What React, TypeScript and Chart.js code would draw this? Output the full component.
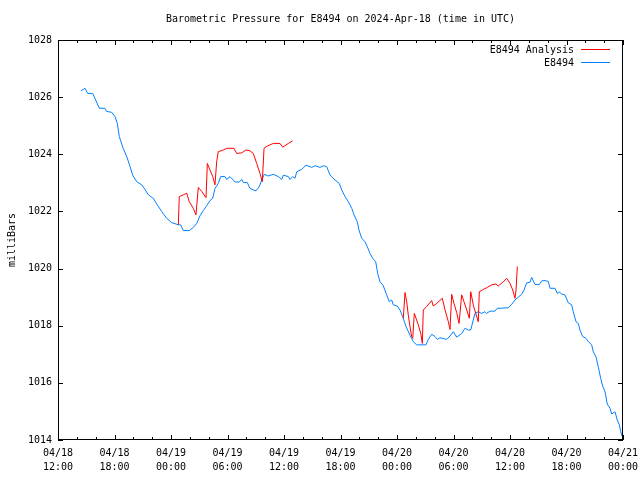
import { useEffect, useRef } from "react";
import { Chart, registerables } from "chart.js";

Chart.register(...registerables);

const TITLE = "Barometric Pressure for E8494 on 2024-Apr-18 (time in UTC)";
const Y_LABEL = "milliBars";
const SERIES_ANALYSIS = "E8494 Analysis";
const SERIES_STATION = "E8494";

// x in hours since 04/18 12:00 UTC
const X_TICK_DATES = ["04/18", "04/18", "04/19", "04/19", "04/19", "04/19", "04/20", "04/20", "04/20", "04/20", "04/21"];
const X_TICK_TIMES = ["12:00", "18:00", "00:00", "06:00", "12:00", "18:00", "00:00", "06:00", "12:00", "18:00", "00:00"];
const Y_TICKS = [1014, 1016, 1018, 1020, 1022, 1024, 1026, 1028];

const stationHours = [
  2.44, 2.87, 3.15, 3.69, 4.39, 4.99, 5.17, 5.70, 6.05, 6.30, 6.51, 6.93, 7.30, 7.65, 7.93, 8.36, 8.89, 9.24, 9.59, 10.12,
  10.54, 11.01, 11.54, 12.07, 12.78, 13.03, 13.31, 13.94, 14.37, 14.73, 15.08, 15.43, 15.79, 16.14, 16.43, 16.67, 17.02, 17.28, 17.73, 17.91,
  18.27, 18.80, 19.25, 19.51, 19.68, 20.10, 20.39, 20.74, 21.03, 21.38, 21.63, 21.91, 22.33, 22.86, 23.39, 23.76, 23.93, 24.46, 24.64, 24.92,
  25.17, 25.35, 25.88, 26.34, 26.94, 27.29, 27.82, 28.17, 28.53, 28.89, 29.42, 29.87, 30.13, 30.48, 30.83, 31.19, 31.44, 31.78, 31.96, 32.25,
  32.60, 32.84, 33.13, 33.42, 33.74, 33.95, 34.19, 34.54, 34.90, 35.18, 35.44, 35.61, 36.03, 36.32, 36.60, 36.96, 37.38, 37.73, 38.09, 39.08,
  39.32, 39.68, 40.04, 40.28, 40.57, 41.28, 41.63, 41.98, 42.34, 42.87, 43.22, 43.57, 43.83, 44.10, 44.28, 44.63, 44.99, 45.34, 45.52, 45.87,
  46.40, 46.65, 46.94, 47.82, 48.18, 48.53, 48.88, 49.24, 49.49, 49.77, 50.12, 50.30, 50.66, 51.11, 51.37, 51.72, 52.07, 52.25, 52.78, 53.03,
  53.24, 53.49, 53.84, 54.19, 54.55, 54.72, 55.01, 55.25, 55.43, 55.72, 56.07, 56.32, 56.67, 56.84, 57.13, 57.37, 57.63, 57.84, 58.09, 58.33,
  58.62, 58.80, 59.15, 59.39, 59.61, 59.76, 59.92,
];
const stationPressure = [
  1026.22, 1026.31, 1026.13, 1026.13, 1025.61, 1025.61, 1025.50, 1025.47, 1025.32, 1025.08, 1024.62, 1024.20, 1023.92, 1023.57, 1023.27, 1023.04, 1022.93, 1022.77, 1022.58, 1022.46,
  1022.23, 1022.00, 1021.76, 1021.61, 1021.53, 1021.53, 1021.33, 1021.33, 1021.44, 1021.58, 1021.85, 1022.03, 1022.20, 1022.38, 1022.46, 1022.80, 1022.98, 1023.22, 1023.22, 1023.12,
  1023.22, 1023.03, 1023.03, 1023.12, 1023.01, 1023.01, 1022.81, 1022.75, 1022.72, 1022.87, 1023.10, 1023.30, 1023.24, 1023.30, 1023.22, 1023.12, 1023.27, 1023.22, 1023.12, 1023.22,
  1023.16, 1023.39, 1023.47, 1023.62, 1023.54, 1023.60, 1023.54, 1023.60, 1023.57, 1023.27, 1023.10, 1022.98, 1022.75, 1022.52, 1022.34, 1022.11, 1021.88, 1021.64, 1021.35, 1021.06,
  1020.94, 1020.77, 1020.53, 1020.36, 1020.24, 1019.83, 1019.54, 1019.40, 1019.08, 1018.84, 1018.90, 1018.73, 1018.69, 1018.55, 1018.32, 1017.97, 1017.67, 1017.44, 1017.33, 1017.33,
  1017.52, 1017.70, 1017.62, 1017.52, 1017.58, 1017.52, 1017.64, 1017.79, 1017.60, 1017.73, 1017.91, 1017.85, 1017.85, 1018.20, 1018.43, 1018.49, 1018.43, 1018.49, 1018.43, 1018.51,
  1018.51, 1018.61, 1018.61, 1018.63, 1018.75, 1018.90, 1019.00, 1019.10, 1019.25, 1019.50, 1019.52, 1019.69, 1019.44, 1019.44, 1019.57, 1019.58, 1019.55, 1019.31, 1019.31, 1019.13,
  1019.18, 1019.11, 1019.08, 1018.80, 1018.73, 1018.49, 1018.14, 1018.08, 1017.85, 1017.62, 1017.56, 1017.44, 1017.33, 1017.09, 1016.91, 1016.57, 1016.16, 1015.89, 1015.69, 1015.26,
  1015.11, 1014.91, 1014.99, 1014.70, 1014.53, 1014.29, 1014.12,
];

const analysisHours = [
  12.78, 12.88, 13.31, 13.67, 13.94, 14.37, 14.65, 14.90, 15.26, 15.72, 15.86, 16.14, 16.43, 16.67, 16.85, 17.02, 17.55, 17.91, 18.69, 18.98,
  19.51, 19.96, 20.39, 20.74, 21.10, 21.45, 21.70, 21.88, 22.23, 22.86, 23.57, 23.86, 24.10, 24.46, 24.92,
  30.0,
  36.67, 36.85, 37.03, 37.20, 37.38, 37.56, 37.67, 37.84, 38.02, 38.26, 38.52, 38.69, 38.79, 39.15, 39.68, 39.85, 40.22, 40.81, 41.10, 41.45,
  41.63, 41.81, 42.05, 42.34, 42.59, 42.87, 43.11, 43.41, 43.68, 43.83, 44.10, 44.36, 44.63, 44.74, 45.16, 45.59, 46.05, 46.51, 46.75, 47.29,
  47.66, 48.00, 48.29, 48.53, 48.64, 48.78,
];
const analysisPressure: (number | null)[] = [
  1021.53, 1022.52, 1022.58, 1022.64, 1022.34, 1022.11, 1021.88, 1022.84, 1022.70, 1022.48, 1023.68, 1023.45, 1023.22, 1022.93, 1023.74, 1024.09, 1024.15, 1024.21, 1024.21, 1024.03,
  1024.05, 1024.15, 1024.12, 1024.03, 1023.68, 1023.33, 1023.04, 1024.21, 1024.29, 1024.38, 1024.38, 1024.25, 1024.30, 1024.38, 1024.47,
  null,
  1018.26, 1019.16, 1018.84, 1018.37, 1017.97, 1017.62, 1017.56, 1018.43, 1018.26, 1018.03, 1017.73, 1017.38, 1018.55, 1018.67, 1018.88, 1018.69, 1018.78, 1018.96, 1018.55, 1018.14,
  1017.87, 1019.10, 1018.78, 1018.46, 1018.08, 1019.08, 1018.84, 1018.55, 1018.26, 1019.19, 1018.73, 1018.43, 1018.14, 1019.19, 1019.27, 1019.34, 1019.43, 1019.46, 1019.39, 1019.54,
  1019.66, 1019.48, 1019.25, 1018.96, 1019.25, 1020.07,
];

const RED = "#ff0000";
const BLUE = "#0080ff";
const FONT = '"DejaVu Sans Mono", "Liberation Mono", monospace';

const framePlugin = {
  id: "gnuFrame",
  afterDraw(chart: any) {
    const { ctx, chartArea, scales } = chart;
    const { left, right, top, bottom } = chartArea;
    const xs = scales.x;
    const ys = scales.y;
    ctx.save();
    ctx.strokeStyle = "#000";
    ctx.lineWidth = 1;
    ctx.beginPath();
    for (const v of Y_TICKS) {
      const py = Math.round(ys.getPixelForValue(v)) + 0.5;
      ctx.moveTo(left, py);
      ctx.lineTo(left + 5, py);
      ctx.moveTo(right, py);
      ctx.lineTo(right - 5, py);
    }
    for (let h = 0; h <= 60; h += 2) {
      const px = Math.round(xs.getPixelForValue(h)) + 0.5;
      const len = h % 6 === 0 ? 5 : 3;
      ctx.moveTo(px, bottom);
      ctx.lineTo(px, bottom - len);
      ctx.moveTo(px, top);
      ctx.lineTo(px, top + len);
    }
    ctx.stroke();
    ctx.strokeRect(Math.round(left) + 0.5, Math.round(top) + 0.5, Math.round(right - left) - 1, Math.round(bottom - top) - 1);

    ctx.fillStyle = "#000";
    ctx.font = `10px ${FONT}`;
    ctx.textAlign = "center";
    ctx.textBaseline = "middle";
    ctx.fillText(TITLE, (left + right) / 2, 19);
    ctx.save();
    ctx.translate(12, (top + bottom) / 2);
    ctx.rotate(-Math.PI / 2);
    ctx.fillText(Y_LABEL, 0, 0);
    ctx.restore();
    ctx.textAlign = "right";
    const entries = [
      { label: SERIES_ANALYSIS, color: RED, y: 49.5 },
      { label: SERIES_STATION, color: BLUE, y: 62.5 },
    ];
    for (const e of entries) {
      ctx.fillStyle = "#000";
      ctx.fillText(e.label, 574, e.y + 0.5);
      ctx.strokeStyle = e.color;
      ctx.beginPath();
      ctx.moveTo(581, e.y);
      ctx.lineTo(610, e.y);
      ctx.stroke();
    }
    ctx.restore();
  },
};

export default function App() {
  const canvasRef = useRef<HTMLCanvasElement | null>(null);

  useEffect(() => {
    document.body.style.margin = "0";
    const canvas = canvasRef.current;
    if (!canvas) return;
    const station = stationHours.map((h, i) => ({ x: h, y: stationPressure[i] }));
    const analysis = analysisHours.map((h, i) => ({ x: h, y: analysisPressure[i] }));
    const chart = new Chart(canvas, {
      type: "line",
      data: {
        datasets: [
          {
            label: SERIES_ANALYSIS,
            data: analysis as any,
            borderColor: RED,
            backgroundColor: RED,
            borderWidth: 1,
            pointRadius: 0,
            tension: 0,
            spanGaps: false,
          },
          {
            label: SERIES_STATION,
            data: station as any,
            borderColor: BLUE,
            backgroundColor: BLUE,
            borderWidth: 1,
            pointRadius: 0,
            tension: 0,
          },
        ],
      },
      options: {
        responsive: false,
        animation: false,
        devicePixelRatio: 1,
        layout: { padding: { top: 40, right: 17, left: 0, bottom: 0 } },
        plugins: {
          legend: { display: false },
          title: { display: false },
          tooltip: { enabled: false },
        },
        scales: {
          x: {
            type: "linear",
            min: 0,
            max: 60,
            afterBuildTicks: (s: any) => {
              s.ticks = X_TICK_DATES.map((_, i) => ({ value: i * 6 }));
            },
            ticks: {
              autoSkip: false,
              maxRotation: 0,
              minRotation: 0,
              padding: 6,
              color: "#000",
              font: { family: FONT, size: 10, lineHeight: 1.4 },
              callback: (_v: any, i: number) => [X_TICK_DATES[i], X_TICK_TIMES[i]],
            },
            grid: { display: false, drawTicks: false },
            border: { display: false },
            afterFit: (s: any) => {
              s.height = 40;
              s.paddingLeft = 0;
              s.paddingRight = 0;
            },
          },
          y: {
            type: "linear",
            min: 1014,
            max: 1028,
            afterBuildTicks: (s: any) => {
              s.ticks = Y_TICKS.map((v) => ({ value: v }));
            },
            ticks: {
              padding: 6,
              color: "#000",
              font: { family: FONT, size: 10 },
              callback: (v: any) => String(v),
            },
            grid: { display: false, drawTicks: false },
            border: { display: false },
            afterFit: (s: any) => {
              s.width = 58;
              s.paddingTop = 0;
              s.paddingBottom = 0;
            },
          },
        },
      },
      plugins: [framePlugin],
    });
    return () => chart.destroy();
  }, []);

  return (
    <div style={{ width: 640, height: 480, background: "#fff" }}>
      <canvas ref={canvasRef} width={640} height={480} style={{ display: "block" }} />
    </div>
  );
}
